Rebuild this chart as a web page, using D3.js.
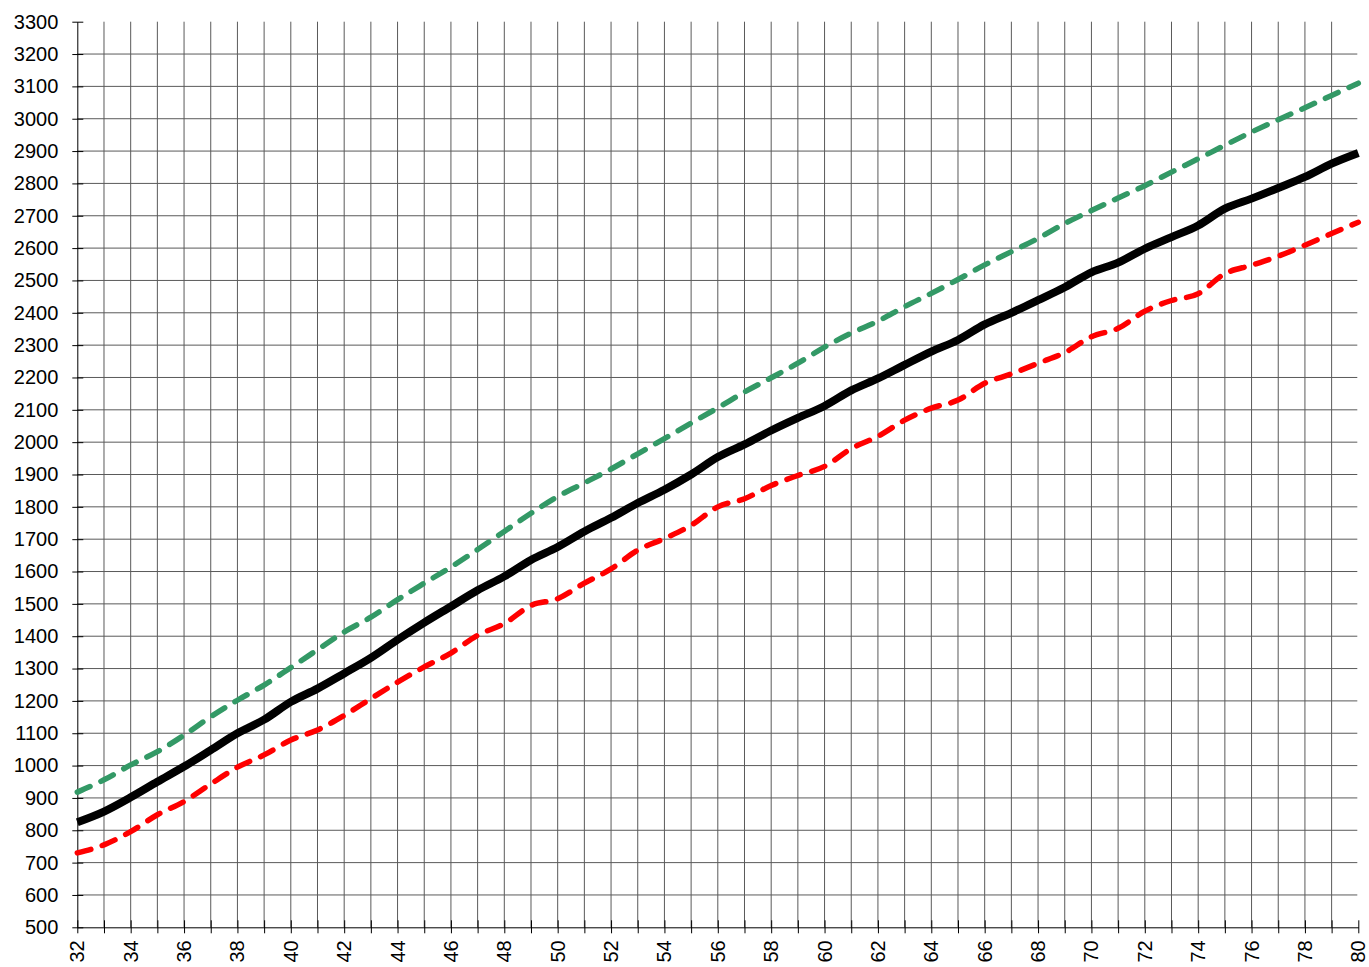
<!DOCTYPE html>
<html>
<head>
<meta charset="utf-8">
<script src="https://cdn.jsdelivr.net/npm/d3@7"></script>
<style>
  html, body { margin: 0; padding: 0; background: #fff; }
  svg { display: block; font-family: "Liberation Sans", Arial, sans-serif; }
</style>
</head>
<body>
<svg id="chart" width="1369" height="967"></svg>
<script>
// ---- data ----
const weeks = d3.range(32, 81);
const xTickLabels = d3.range(32, 81, 2);
const yTickLabels = d3.range(500, 3301, 100);

const median = [825, 858, 902, 950, 997, 1048, 1100, 1142, 1197, 1238,
  1285, 1333, 1389, 1442, 1492, 1542, 1585, 1636, 1676, 1724,
  1766, 1812, 1853, 1900, 1954, 1993, 2036, 2075, 2112, 2160,
  2197, 2239, 2280, 2316, 2364, 2400, 2439, 2479, 2525, 2555,
  2598, 2634, 2670, 2722, 2753, 2786, 2820, 2861, 2894];

const upper = [918, 956, 1002, 1043, 1094, 1151, 1202, 1249, 1303, 1358,
  1413, 1459, 1513, 1564, 1614, 1668, 1724, 1780, 1832, 1874,
  1917, 1964, 2011, 2059, 2106, 2155, 2199, 2244, 2294, 2337,
  2374, 2419, 2460, 2503, 2548, 2589, 2630, 2676, 2716, 2755,
  2793, 2835, 2876, 2918, 2959, 2997, 3034, 3072, 3110];

const lower = [730, 755, 796, 848, 889, 943, 995, 1033, 1079, 1110,
  1155, 1207, 1258, 1305, 1348, 1403, 1439, 1495, 1516, 1564,
  1608, 1666, 1702, 1743, 1800, 1825, 1866, 1897, 1925, 1980,
  2018, 2068, 2105, 2130, 2182, 2211, 2244, 2277, 2326, 2352,
  2405, 2438, 2459, 2521, 2547, 2575, 2609, 2645, 2680];

// ---- layout ----
const svg = d3.select("#chart");
const L = 77.3, R = 1358.3, T = 21.7, B = 927.3;
const x = d3.scaleLinear().domain([32, 80]).range([L, R]);
const y = d3.scaleLinear().domain([500, 3300]).range([B, T]);

// grid
const grid = svg.append("g").attr("stroke", "#5a5a5a").attr("stroke-width", 1);
grid.selectAll("line.h").data(yTickLabels.filter(v => v > 500 && v < 3300))
  .join("line").attr("class", "h")
  .attr("x1", L).attr("x2", R - 1)
  .attr("y1", d => y(d)).attr("y2", d => y(d));
grid.selectAll("line.v").data(weeks.filter(v => v > 32 && v < 80))
  .join("line").attr("class", "v")
  .attr("x1", d => x(d)).attr("x2", d => x(d))
  .attr("y1", T).attr("y2", B);

// axes
const yAxis = d3.axisLeft(y).tickValues(yTickLabels).tickFormat(d3.format("d"))
  .tickSize(5).tickPadding(14).tickSizeOuter(0);
const gy = svg.append("g").attr("transform", `translate(${L},0)`).call(yAxis);
gy.select(".domain").attr("stroke", "#000");
gy.selectAll(".tick line").attr("x2", -5).attr("x1", 6).attr("stroke", "#000");
gy.selectAll(".tick text").attr("font-size", 20).attr("fill", "#000")
  .attr("font-family", "'Liberation Sans', Arial, sans-serif").attr("x", -19);

const xAxis = d3.axisBottom(x).tickValues(weeks).tickSize(6).tickSizeOuter(0).tickFormat("");
const gx = svg.append("g").attr("transform", `translate(0,${B})`).call(xAxis);
gx.select(".domain").attr("stroke", "#000");
gx.selectAll(".tick line").attr("y1", -7).attr("y2", 6).attr("stroke", "#000");

svg.append("g").selectAll("text").data(xTickLabels).join("text")
  .attr("transform", d => `translate(${x(d)},${B + 13}) rotate(-90)`)
  .attr("text-anchor", "end").attr("dy", "0.35em")
  .attr("font-size", 20).attr("fill", "#000")
  .text(d => d);

// lines
const line = d3.line().x((d, i) => x(weeks[i])).y(d => y(d)).curve(d3.curveMonotoneX);

svg.append("path").datum(upper).attr("d", line)
  .attr("fill", "none").attr("stroke", "#339966").attr("stroke-width", 5.5)
  .attr("stroke-dasharray", "14,12").attr("stroke-linecap", "round");
svg.append("path").datum(lower).attr("d", line)
  .attr("fill", "none").attr("stroke", "#ff0000").attr("stroke-width", 5.5)
  .attr("stroke-dasharray", "14,12").attr("stroke-linecap", "round");
svg.append("path").datum(median).attr("d", line)
  .attr("fill", "none").attr("stroke", "#000").attr("stroke-width", 8)
  .attr("stroke-linejoin", "round");
</script>
</body>
</html>
